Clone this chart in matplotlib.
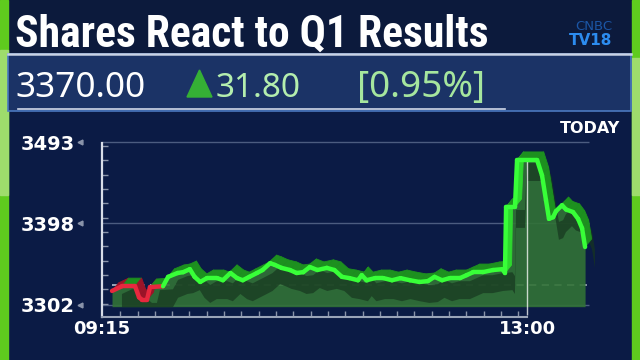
import numpy as np
import matplotlib
matplotlib.use("Agg")
import matplotlib.pyplot as plt
from matplotlib.patches import Rectangle, Polygon
from matplotlib.collections import PolyCollection, LineCollection
from matplotlib.ticker import FixedLocator

# --- data (minutes after 09:15, price) ---
minutes = [5.3, 10.6, 17.5, 19.6, 21.2, 23.8, 25.4, 32.3, 35,
           40, 43, 46.5, 49, 52, 55.5, 61, 64, 68, 71.5,
           74.5, 78, 82, 85, 89, 91.5, 95, 99.5, 103, 106.5,
           110, 114, 119, 123, 127, 131, 135.5, 137.5, 140, 144.5,
           149, 153.5, 158, 163, 168, 172.5, 176, 180, 184, 189.5,
           193, 196.5, 201.5, 207, 212, 213.3, 213.9, 218.6, 219.7, 230.3,
           232.9, 235, 236.6, 238.8, 240.3, 243.5, 245.6, 249.3, 252, 254.1,
           255.7]
prices = [3318.5, 3324, 3324, 3311, 3308, 3308, 3323, 3324, 3335,
          3339.5, 3340.5, 3344, 3335, 3329, 3333.5, 3333.5, 3331, 3339.5, 3333.5,
          3331, 3335, 3339.5, 3343, 3351, 3349, 3345.5, 3343, 3339.5, 3340.5,
          3346.5, 3343, 3345.5, 3343, 3335, 3333.5, 3331, 3337, 3331, 3333.5,
          3333.5, 3331, 3333.5, 3331, 3329, 3330, 3335, 3331, 3333.5, 3333.5,
          3337, 3340.5, 3340.5, 3343, 3344, 3339.5, 3417, 3417, 3472, 3472,
          3454, 3425, 3403, 3405, 3412, 3419, 3414, 3411, 3403, 3392,
          3370]
ref_level = 3325
ytick_vals = [3302, 3398, 3493]
xtick_vals = [0, 225]
xtick_labels = ["09:15", "13:00"]

title = "Shares React to Q1 Results"
last_price = "3370.00"
change = "31.80"
change_pct = "[0.95%]"

NAVY = "#0b1b45"
GREEN_BAR = "#5fcb1e"

fig = plt.figure(figsize=(6.4, 3.6), dpi=100, facecolor=NAVY)

# background layer in pixel coordinates
bg = fig.add_axes([0, 0, 1, 1])
bg.set_xlim(0, 640)
bg.set_ylim(360, 0)
bg.axis("off")
bg.add_patch(Rectangle((0, 0), 640, 54, color="#0c1a3c", zorder=0))
bg.add_patch(Rectangle((0, 0), 7.5, 360, color=GREEN_BAR, zorder=1))
bg.add_patch(Rectangle((0, 50), 7.5, 145, color="#9edc6c", zorder=1))
bg.add_patch(Rectangle((632, 0), 8, 360, color=GREEN_BAR, zorder=1))
bg.add_patch(Rectangle((632, 58), 8, 137, color="#9edc6c", zorder=1))
# price band
bg.add_patch(Rectangle((8, 54), 623, 57, facecolor="#1b3366", edgecolor="#4b78c0", lw=1.2, zorder=1))
bg.plot([8, 631], [54, 54], color="#c9d2e4", lw=1.8, zorder=2)
bg.plot([18, 505], [109, 109], color="#d0d8e8", lw=1.2, zorder=2)
bg.add_patch(Polygon([(187, 97), (212, 97), (199.5, 70)], closed=True, color="#35b035", zorder=2))


def fit(txt, width_px):
    fig.canvas.draw()
    w = txt.get_window_extent().width
    txt.set_fontsize(txt.get_fontsize() * width_px / w)


t1 = bg.text(15, 47, title, color="white", fontsize=30, fontweight="bold",
             family=["Roboto Condensed", "Roboto"], va="baseline", zorder=3)
t2 = bg.text(15, 97, last_price, color="white", fontsize=24, family=["Noto Sans", "DejaVu Sans"],
             va="baseline", zorder=3)
t3 = bg.text(216, 97, change, color="#b4eeae", fontsize=24, family=["Noto Sans", "DejaVu Sans"],
             va="baseline", zorder=3)
t4 = bg.text(357, 97, change_pct, color="#a6e69e", fontsize=24, family=["Noto Sans", "DejaVu Sans"],
             va="baseline", zorder=3)
fit(t1, 475)
fit(t2, 130)
fit(t3, 85)
fit(t4, 128)

bg.text(612, 30, "CNBC", color="#1b56a6", fontsize=9.5, ha="right", va="baseline", zorder=3)
bg.text(612, 45, "TV18", color="#2c8cf0", fontsize=11, fontweight="bold", ha="right",
        va="baseline", zorder=3)
bg.text(620, 133, "TODAY", color="white", fontsize=11.5, fontweight="bold", ha="right",
        va="baseline", zorder=3)

# --- chart ---
t = np.array(minutes, dtype=float)
v = np.array(prices, dtype=float)
fill_base = 3300

ax = fig.add_axes([102 / 640, 40 / 360, 498 / 640, 190 / 360])
ax.set_facecolor("none")
ax.set_xlim(0, 263.6)
ax.set_ylim(3284.4, 3507.2)

for s in ["top", "right"]:
    ax.spines[s].set_visible(False)
ax.spines["left"].set_position(("data", 0))
ax.spines["left"].set_bounds(3288, 3492)
ax.spines["left"].set_color("#d8dde8")
ax.spines["left"].set_linewidth(1.6)
ax.spines["bottom"].set_position(("data", 3288))
ax.spines["bottom"].set_bounds(0, 225)
ax.spines["bottom"].set_color("#9aa4b8")
ax.spines["bottom"].set_linewidth(1.5)

ax.set_yticks(ytick_vals)
ax.set_yticklabels([str(y) for y in ytick_vals])
ax.set_xticks(xtick_vals)
ax.set_xticklabels(xtick_labels)
ax.tick_params(axis="y", length=0, pad=19.5, labelsize=14, labelcolor="white")
ax.tick_params(axis="x", length=0, pad=2, labelsize=13, labelcolor="white")
for lab in ax.get_yticklabels() + ax.get_xticklabels():
    lab.set_fontweight("bold")
ax.yaxis.set_minor_locator(FixedLocator(np.arange(3303.5, 3492, 16.8)))
ax.xaxis.set_minor_locator(FixedLocator(np.arange(9.66, 226, 9.16)))
ax.tick_params(which="minor", direction="in", length=4, width=1, color="#8a94aa")

# grid lines, reference line, 13:00 marker
ax.hlines(ytick_vals, 0, 258, color="#4c5c80", lw=1, zorder=1)
ax.hlines(ref_level, t[0], 258, color="#a8b0c0", lw=1.3, linestyles=(0, (4, 3)), zorder=2)
ax.plot(np.full(len(ytick_vals), -22 * 263.6 / 498), ytick_vals, "<", ms=3.5,
        color="#8a94aa", clip_on=False, zorder=3)

# area under the line + shadow
ax.fill_between(t, v, fill_base, color="#317236", alpha=0.9, lw=0, zorder=2)
ax.fill_between(t + 5, np.maximum(v - 24, fill_base), np.maximum(v - 3, fill_base),
                color="#17361f", alpha=0.7, lw=0, zorder=3)
ax.vlines(225, 3290, 3476, color="white", alpha=0.75, lw=1, zorder=4)

# ribbon extrusion
pts = np.column_stack([t, v])
off = np.array([3.5, 9.5])
red_line = (v[:-1] + v[1:]) / 2 < ref_level
red_face = np.minimum(v[:-1], v[1:]) < ref_level - 6
quads, qcols, lcols = [], [], []
for i in range(len(t) - 1):
    quads.append([pts[i], pts[i + 1], pts[i + 1] + off, pts[i] + off])
    if red_face[i]:
        qcols.append("#9c1428")
    elif v[i + 1] - v[i] > 20:
        qcols.append("#2ed82e")
    else:
        qcols.append("#1d901f")
    lcols.append("#e8283e" if red_line[i] else "#38ff38")
ax.add_collection(PolyCollection(quads, facecolors=qcols, edgecolors=qcols, lw=0.6, zorder=5))
segs = [[pts[i], pts[i + 1]] for i in range(len(t) - 1)]
ax.add_collection(LineCollection(segs, colors=lcols, lw=3.2, capstyle="round", zorder=6))

fig.savefig("out.png", dpi=100, facecolor=NAVY)
